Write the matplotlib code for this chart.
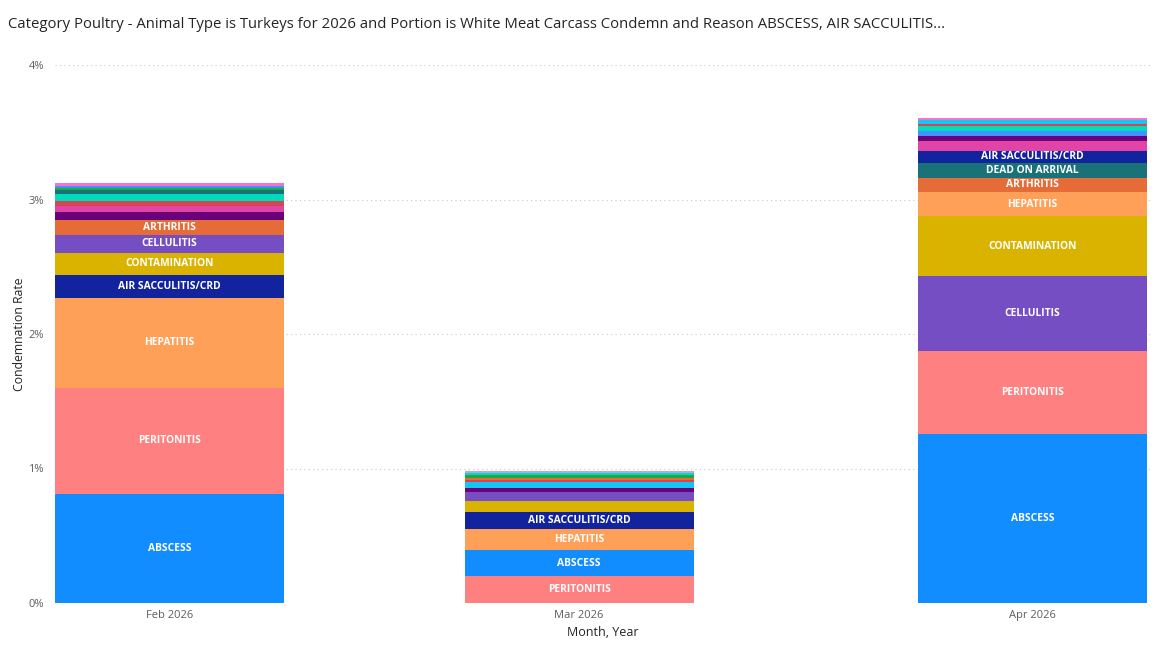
import numpy as np
import pandas as pd
import matplotlib
matplotlib.use("Agg")
from matplotlib import pyplot as plt

plt.rcParams['font.family'] = ['Open Sans', 'DejaVu Sans']

months = ["2026-02-01", "2026-03-01", "2026-04-01"]
month_labels = ["Feb 2026", "Mar 2026", "Apr 2026"]

# colour per reason (report theme)
reason_colors = {
    "ABSCESS": "#118DFF",
    "AIR SACCULITIS/CRD": "#12239E",
    "ARTHRITIS": "#E66C37",
    "BRUISE": "#6B007B",
    "CADAVER": "#E044A7",
    "CELLULITIS": "#744EC2",
    "CONTAMINATION": "#D9B300",
    "DERMATITIS": "#D64550",
    "DEAD ON ARRIVAL": "#197278",
    "INFLAMMATORY PROCESS": "#1AAB40",
    "LEUKOSIS": "#15C6F4",
    "OVERSCALD": "#4092FF",
    "HEPATITIS": "#FFA058",
    "TUMORS": "#F472D0",
    "SYNOVITIS": "#B5A1FF",
    "PERITONITIS": "#FF8080",
    "SEPTICEMIA/TOXEMIA": "#00DBBC",
}

# stacks, bottom to top, condemnation rate in %
feb_reasons = ["ABSCESS", "PERITONITIS", "HEPATITIS", "AIR SACCULITIS/CRD", "CONTAMINATION",
               "CELLULITIS", "ARTHRITIS", "BRUISE", "CADAVER", "DERMATITIS",
               "SEPTICEMIA/TOXEMIA", "DEAD ON ARRIVAL", "INFLAMMATORY PROCESS", "OVERSCALD", "TUMORS"]
feb_values = [0.81, 0.79, 0.67, 0.17, 0.165, 0.13, 0.11, 0.06, 0.05, 0.037,
              0.05, 0.025, 0.02, 0.015, 0.02]

mar_reasons = ["PERITONITIS", "ABSCESS", "HEPATITIS", "AIR SACCULITIS/CRD", "CONTAMINATION",
               "CELLULITIS", "BRUISE", "LEUKOSIS", "DERMATITIS", "ARTHRITIS",
               "INFLAMMATORY PROCESS", "SEPTICEMIA/TOXEMIA", "SYNOVITIS"]
mar_values = [0.20, 0.193, 0.154, 0.131, 0.08, 0.07, 0.03, 0.04, 0.02, 0.015,
              0.015, 0.015, 0.015]

apr_reasons = ["ABSCESS", "PERITONITIS", "CELLULITIS", "CONTAMINATION", "HEPATITIS",
               "ARTHRITIS", "DEAD ON ARRIVAL", "AIR SACCULITIS/CRD", "CADAVER", "BRUISE",
               "OVERSCALD", "SEPTICEMIA/TOXEMIA", "DERMATITIS", "LEUKOSIS", "TUMORS"]
apr_values = [1.26, 0.61, 0.56, 0.444, 0.183, 0.102, 0.114, 0.089, 0.07, 0.037,
              0.04, 0.037, 0.018, 0.025, 0.02]

stacks = [(feb_reasons, feb_values), (mar_reasons, mar_values), (apr_reasons, apr_values)]

dates = pd.to_datetime(months)
x = np.array((dates - dates[0]).days, dtype=float)
bar_w = 15.66

fig = plt.figure(figsize=(11.56, 6.56), dpi=100)
ax = fig.add_axes([55 / 1156, 53 / 656, 1095 / 1156, 538 / 656])

for xi, (reasons, values) in zip(x, stacks):
    bottom = 0.0
    for r, v in zip(reasons, values):
        ax.bar(xi, v, bottom=bottom, width=bar_w, color=reason_colors[r], linewidth=0)
        if v >= 0.085:
            ax.text(xi, bottom + v / 2, r, ha="center", va="center", color="white",
                    fontsize=7.4, fontweight="bold")
        bottom += v

ax.set_xlim(x[0] - 7.83, x[-1] + 8.03)
ax.set_ylim(0, 4)
ax.set_yticks([0, 1, 2, 3, 4])
ax.set_yticklabels(["0%", "1%", "2%", "3%", "4%"])
ax.set_xticks(x)
ax.set_xticklabels(month_labels)
ax.tick_params(axis="both", length=0, labelsize=8, colors="#605E5C")
ax.tick_params(axis="y", pad=8)
ax.tick_params(axis="x", pad=5)
ax.yaxis.grid(True, linestyle=(0, (1, 3)), color="#C8C8C8", linewidth=0.8)
ax.set_axisbelow(True)
for s in ax.spines.values():
    s.set_visible(False)

ax.set_xlabel("Month, Year", fontsize=9, color="#252423", labelpad=4)
ax.set_ylabel("Condemnation Rate", fontsize=8.8, color="#252423", labelpad=2)

fig.text(8 / 1156, 1 - 25 / 656,
         "Category Poultry - Animal Type is Turkeys for 2026 and Portion is White Meat Carcass Condemn and Reason ABSCESS, AIR SACCULITIS...",
         fontsize=10.75, color="#252423", va="center", ha="left")

fig.savefig("out.png", dpi=100)
